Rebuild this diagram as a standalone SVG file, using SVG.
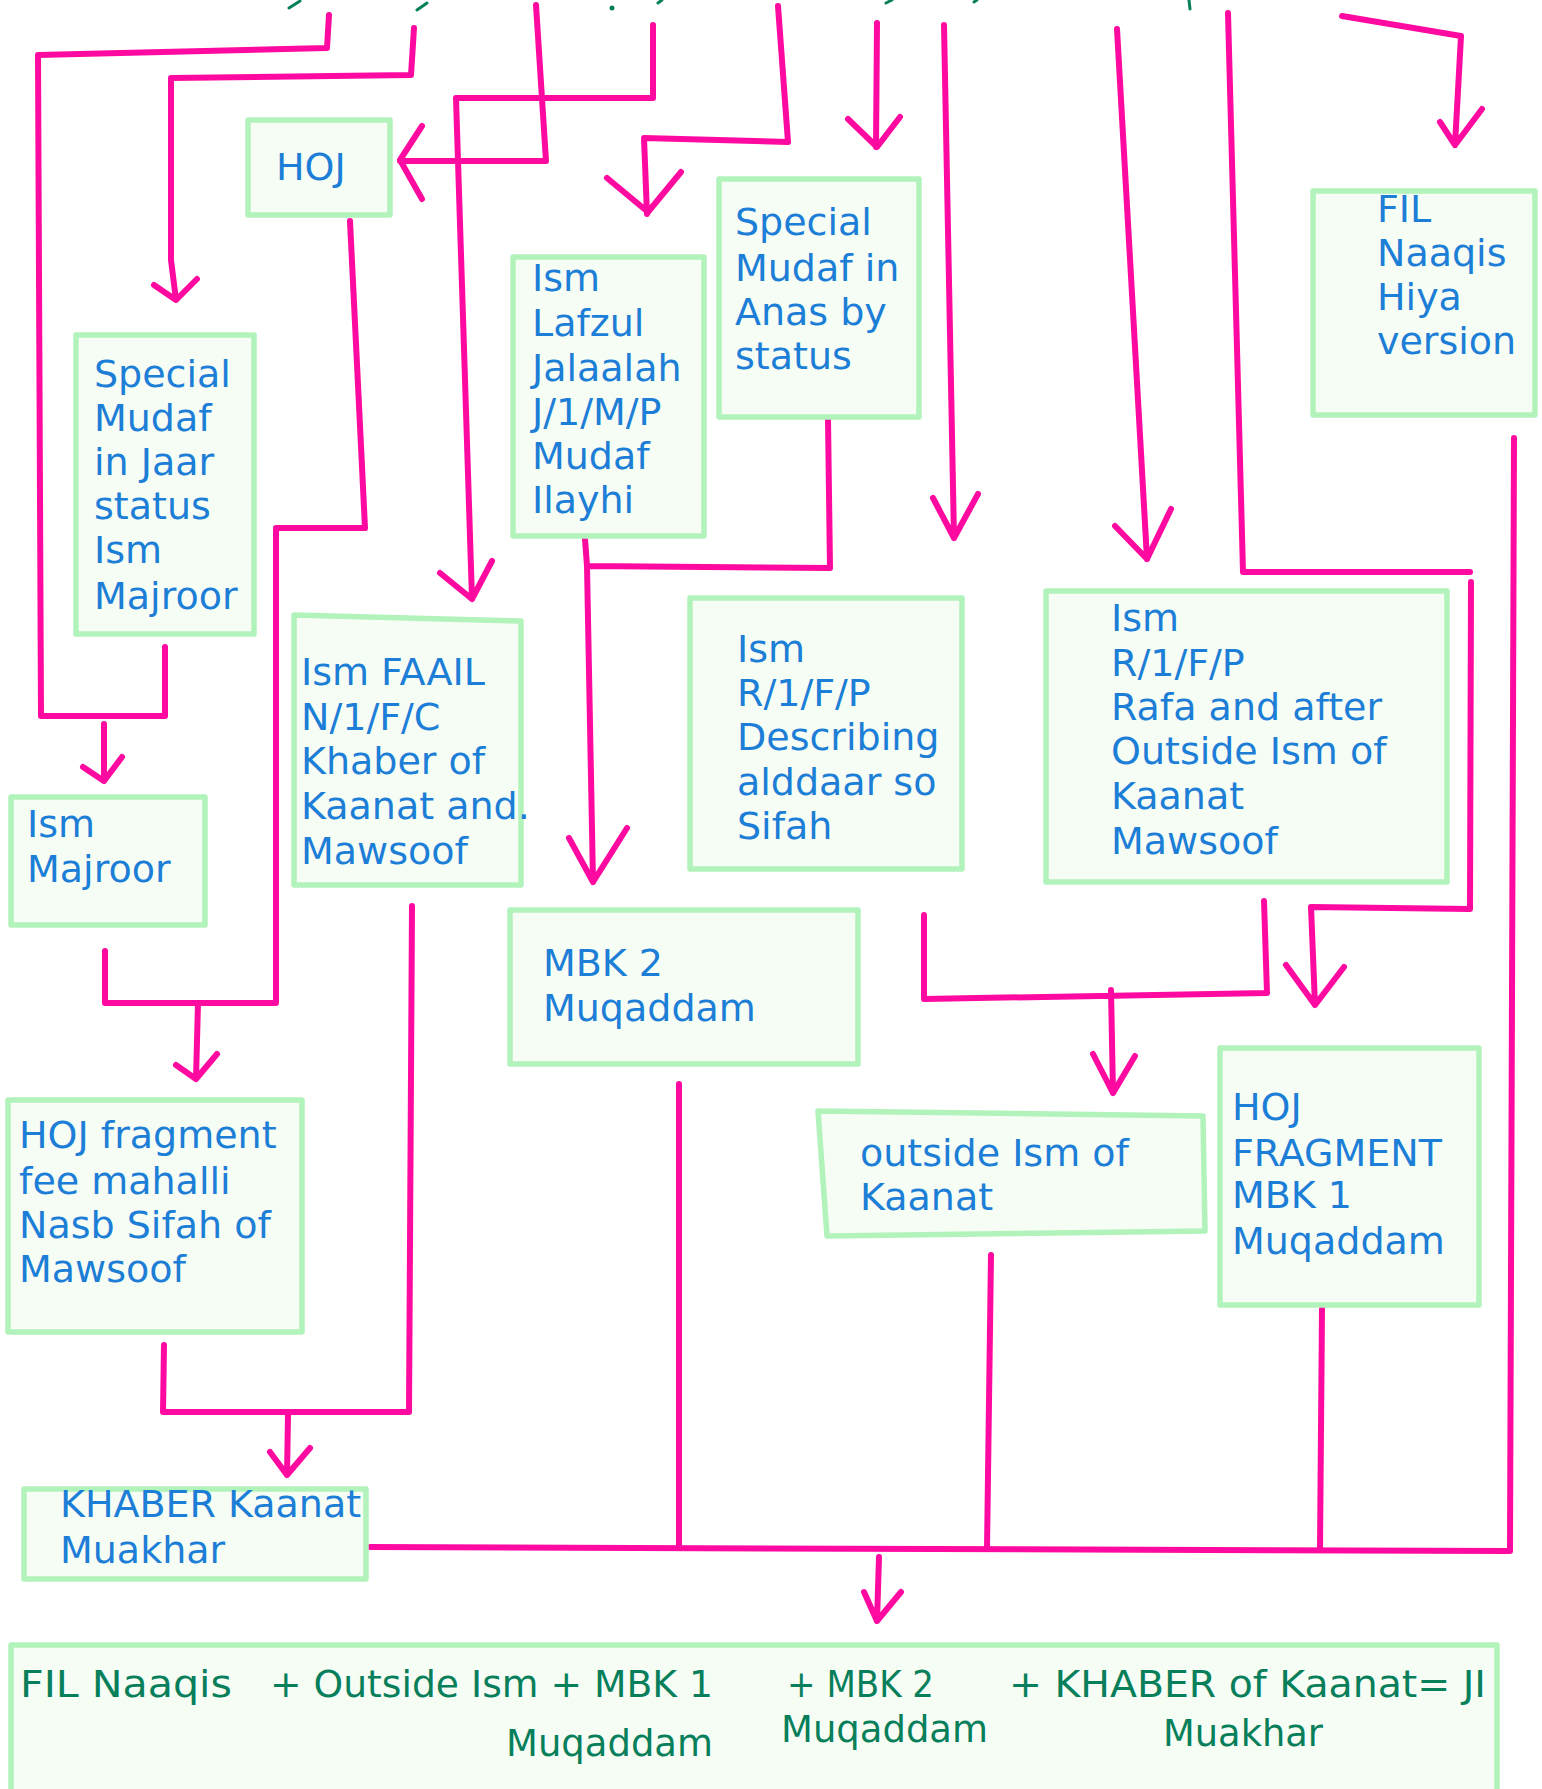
<svg xmlns="http://www.w3.org/2000/svg" width="1542" height="1789" viewBox="0 0 1542 1789">
<style>
.box{fill:#f6fdf5;stroke:#b2f2bb;stroke-width:5.5;stroke-linejoin:round}
.ln{fill:none;stroke:#ff0aa0;stroke-width:6;stroke-linecap:round;stroke-linejoin:round}
.t{font-family:"DejaVu Sans","Liberation Sans",sans-serif;font-size:38px;fill:#1c7ed6}
.g{font-family:"DejaVu Sans","Liberation Sans",sans-serif;font-size:38px;fill:#087f5b}
.frag{fill:none;stroke:#087f5b;stroke-width:3;stroke-linecap:round}
</style>
<rect width="1542" height="1789" fill="#ffffff"/>
<g id="top-fragments">
<path class="frag" d="M289,8 L300,1 M417,10 L427,3 M658,3 L662,0 M886,3 L892,0 M974,2 L977,0 M1189,0 L1190,9"/>
<circle cx="612" cy="8" r="2.5" fill="#087f5b"/>
</g>
<g id="connectors">
<path class="ln" d="M329,15 L327,48 L38,55 L41,716 L165,716 L165,647"/>
<path class="ln" d="M104,724 L104,781 M83,767 L104,781 L122,757"/>
<path class="ln" d="M414,28 L411,75 L171,78 L171,260 L176,300 M154,285 L176,300 L197,279"/>
<path class="ln" d="M536,5 L546,161 L400,161 M422,126 L400,160 L422,199"/>
<path class="ln" d="M653,25 L653,98 L456,98 L472,599 M440,573 L472,599 L492,561"/>
<path class="ln" d="M778,6 L788,142 L644,138 L647,214 M607,178 L648,212 L681,172"/>
<path class="ln" d="M350,221 L365,528 L276,528 L276,1003 L105,1003 L105,951"/>
<path class="ln" d="M198,1003 L196,1079 M176,1065 L196,1079 L217,1054"/>
<path class="ln" d="M828,419 L830,568 L587,566 L593,882 M585,539 L587,566 M569,838 L593,882 L627,828"/>
<path class="ln" d="M877,23 L876,147 M848,119 L877,147 L900,117"/>
<path class="ln" d="M944,25 L954,538 M933,498 L954,538 L978,494"/>
<path class="ln" d="M1117,29 L1147,559 M1115,526 L1147,559 L1171,509"/>
<path class="ln" d="M1228,13 L1243,572 L1470,572"/>
<path class="ln" d="M1471,582 L1470,909 L1311,907 L1315,1005 M1286,965 L1315,1005 L1344,967"/>
<path class="ln" d="M1342,16 L1461,36 L1455,145 M1440,122 L1455,145 L1482,109"/>
<path class="ln" d="M1514,438 L1510,1551 L370,1547"/>
<path class="ln" d="M412,906 L409,1412 L163,1412 L164,1345 M288,1415 L287,1475 M270,1452 L287,1475 L310,1448"/>
<path class="ln" d="M679,1084 L679,1547"/>
<path class="ln" d="M991,1255 L987,1549"/>
<path class="ln" d="M1322,1309 L1320,1549"/>
<path class="ln" d="M879,1557 L877,1621 M864,1592 L877,1621 L901,1592"/>
<path class="ln" d="M924,915 L924,999 L1267,993 L1264,901 M1111,990 L1113,1093 M1093,1054 L1113,1093 L1135,1056"/>
</g>
<g id="node-hoj">
<rect class="box" x="248" y="120" width="142" height="95"/>
<text class="t" x="276" y="180">HOJ</text>
</g>
<g id="node-special-jaar">
<rect class="box" x="76" y="335" width="178" height="299"/>
<text class="t"><tspan x="94" y="387">Special</tspan><tspan x="94" y="431">Mudaf</tspan><tspan x="94" y="475">in Jaar</tspan><tspan x="94" y="519">status</tspan><tspan x="94" y="563">Ism</tspan><tspan x="94" y="609">Majroor</tspan></text>
</g>
<g id="node-ism-majroor">
<rect class="box" x="11" y="797" width="194" height="128"/>
<text class="t"><tspan x="27" y="837">Ism</tspan><tspan x="27" y="882">Majroor</tspan></text>
</g>
<g id="node-hoj-fragment">
<rect class="box" x="8" y="1100" width="294" height="232"/>
<text class="t"><tspan x="19" y="1148">HOJ fragment</tspan><tspan x="19" y="1194">fee mahalli</tspan><tspan x="19" y="1238">Nasb Sifah of</tspan><tspan x="19" y="1282">Mawsoof</tspan></text>
</g>
<g id="node-khaber">
<rect class="box" x="24" y="1489" width="342" height="90"/>
<text class="t"><tspan x="60" y="1517">KHABER Kaanat</tspan><tspan x="60" y="1563">Muakhar</tspan></text>
</g>
<g id="node-ism-faail">
<polygon class="box" points="294,615 521,621 521,885 294,885"/>
<text class="t"><tspan x="301" y="685">Ism FAAIL</tspan><tspan x="301" y="730">N/1/F/C</tspan><tspan x="301" y="774">Khaber of</tspan><tspan x="301" y="819">Kaanat and.</tspan><tspan x="301" y="864">Mawsoof</tspan></text>
</g>
<g id="node-ism-lafzul">
<rect class="box" x="513" y="257" width="191" height="279"/>
<text class="t"><tspan x="532" y="291">Ism</tspan><tspan x="532" y="336">Lafzul</tspan><tspan x="532" y="381">Jalaalah</tspan><tspan x="532" y="425">J/1/M/P</tspan><tspan x="532" y="469">Mudaf</tspan><tspan x="532" y="513">Ilayhi</tspan></text>
</g>
<g id="node-special-anas">
<rect class="box" x="719" y="179" width="200" height="238"/>
<text class="t"><tspan x="735" y="235">Special</tspan><tspan x="735" y="281">Mudaf in</tspan><tspan x="735" y="325">Anas by</tspan><tspan x="735" y="369">status</tspan></text>
</g>
<g id="node-mbk2">
<rect class="box" x="510" y="910" width="348" height="154"/>
<text class="t"><tspan x="543" y="976">MBK 2</tspan><tspan x="543" y="1021">Muqaddam</tspan></text>
</g>
<g id="node-describing">
<rect class="box" x="690" y="598" width="272" height="271"/>
<text class="t"><tspan x="737" y="662">Ism</tspan><tspan x="737" y="706">R/1/F/P</tspan><tspan x="737" y="750">Describing</tspan><tspan x="737" y="795">alddaar so</tspan><tspan x="737" y="839">Sifah</tspan></text>
</g>
<g id="node-rafa">
<rect class="box" x="1046" y="591" width="401" height="291"/>
<text class="t"><tspan x="1111" y="631">Ism</tspan><tspan x="1111" y="676">R/1/F/P</tspan><tspan x="1111" y="720">Rafa and after</tspan><tspan x="1111" y="764">Outside Ism of</tspan><tspan x="1111" y="809">Kaanat</tspan><tspan x="1111" y="854">Mawsoof</tspan></text>
</g>
<g id="node-outside-ism">
<polygon class="box" points="818,1111 1203,1116 1205,1231 827,1236"/>
<text class="t"><tspan x="860" y="1166">outside Ism of</tspan><tspan x="860" y="1210">Kaanat</tspan></text>
</g>
<g id="node-hoj-fragment-mbk1">
<rect class="box" x="1220" y="1048" width="259" height="257"/>
<text class="t"><tspan x="1232" y="1120">HOJ</tspan><tspan x="1232" y="1166">FRAGMENT</tspan><tspan x="1232" y="1208">MBK 1</tspan><tspan x="1232" y="1254">Muqaddam</tspan></text>
</g>
<g id="node-fil-naaqis">
<rect class="box" x="1313" y="191" width="222" height="224"/>
<text class="t"><tspan x="1377" y="222">FIL</tspan><tspan x="1377" y="266">Naaqis</tspan><tspan x="1377" y="310">Hiya</tspan><tspan x="1377" y="354">version</tspan></text>
</g>
<g id="node-result">
<rect class="box" x="11" y="1645" width="1486" height="170"/>
<text class="g" x="20" y="1697" textLength="212" lengthAdjust="spacingAndGlyphs">FIL Naaqis</text>
<text class="g" x="270" y="1697" textLength="443" lengthAdjust="spacingAndGlyphs">+ Outside Ism + MBK 1</text>
<text class="g" x="506" y="1756" textLength="207" lengthAdjust="spacingAndGlyphs">Muqaddam</text>
<text class="g" x="787" y="1697" textLength="147" lengthAdjust="spacingAndGlyphs">+ MBK 2</text>
<text class="g" x="781" y="1742" textLength="207" lengthAdjust="spacingAndGlyphs">Muqaddam</text>
<text class="g" x="1009" y="1697" textLength="477" lengthAdjust="spacingAndGlyphs">+ KHABER of Kaanat= JI</text>
<text class="g" x="1163" y="1746" textLength="160" lengthAdjust="spacingAndGlyphs">Muakhar</text>
</g>
</svg>
